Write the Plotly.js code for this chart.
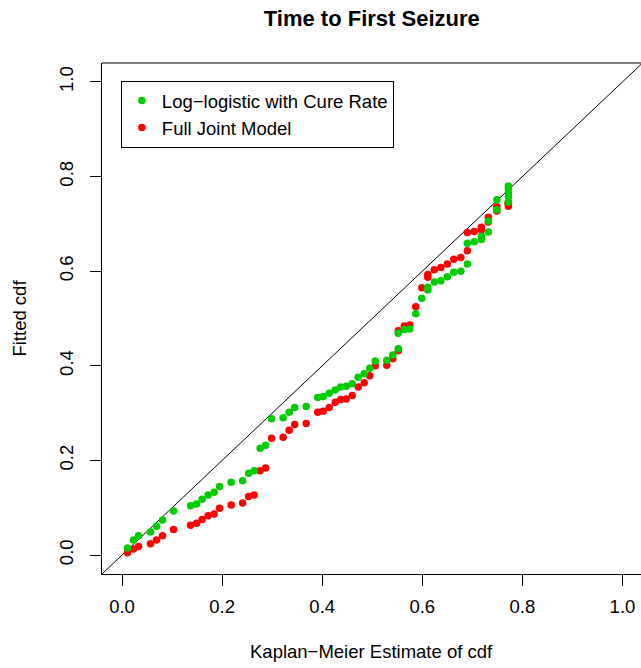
<!DOCTYPE html>
<html>
<head>
<meta charset="utf-8">
<script src="https://cdn.plot.ly/plotly-3.0.1.min.js"></script>
<style>html,body{margin:0;padding:0;overflow:hidden;background:#fff;}#chart{width:641px;height:668px;}</style>
</head>
<body>
<div id="chart"></div>
<script>
// Kaplan-Meier estimate of cdf (shared x for both fitted models)
const kmEstimate = [0.011,0.023,0.033,0.057,0.069,0.081,0.103,0.137,0.149,0.160,0.172,0.184,0.195,0.218,0.241,0.253,0.264,0.276,0.287,0.299,0.322,0.334,0.345,0.368,0.391,0.402,0.414,0.426,0.437,0.448,0.460,0.472,0.484,0.495,0.506,0.529,0.541,0.552,0.552,0.564,0.575,0.587,0.599,0.611,0.611,0.624,0.637,0.650,0.663,0.677,0.690,0.690,0.704,0.718,0.718,0.732,0.732,0.749,0.749,0.772,0.772,0.772,0.772,0.772];
// Fitted cdf: log-logistic with cure rate
const fitLogLogistic = [0.015,0.032,0.041,0.049,0.061,0.074,0.093,0.104,0.108,0.118,0.127,0.133,0.145,0.154,0.157,0.173,0.178,0.226,0.232,0.288,0.290,0.302,0.312,0.314,0.333,0.335,0.342,0.349,0.355,0.357,0.362,0.376,0.383,0.395,0.410,0.412,0.423,0.436,0.469,0.477,0.478,0.510,0.543,0.560,0.566,0.577,0.580,0.588,0.598,0.600,0.615,0.659,0.662,0.667,0.674,0.683,0.706,0.730,0.751,0.746,0.757,0.765,0.774,0.780];
// Fitted cdf: full joint model
const fitJoint = [0.005,0.013,0.018,0.024,0.032,0.041,0.054,0.063,0.067,0.075,0.083,0.087,0.099,0.106,0.110,0.124,0.127,0.178,0.184,0.247,0.249,0.264,0.276,0.278,0.302,0.304,0.312,0.323,0.329,0.330,0.337,0.355,0.364,0.379,0.400,0.401,0.415,0.432,0.474,0.484,0.486,0.525,0.565,0.587,0.593,0.603,0.608,0.615,0.625,0.629,0.643,0.682,0.684,0.687,0.693,0.704,0.714,0.727,0.736,0.737,0.742,0.743,0.744,0.745];
const seriesNames = ["Log\u2212logistic with Cure Rate", "Full Joint Model"];
const tickVals = [0, 0.2, 0.4, 0.6, 0.8, 1.0];
const tickText = ["0.0", "0.2", "0.4", "0.6", "0.8", "1.0"];
const refLine = [-1, 2];
const xTitle = "Kaplan\u2212Meier Estimate of cdf";
const yTitle = "Fitted cdf";

const FONT = "Liberation Sans, Arial, Helvetica, sans-serif";
const FS = 18.5;

const traces = [
  {x: refLine, y: refLine, mode: "lines", line: {color: "#000", width: 1}, showlegend: false, hoverinfo: "skip"},
  {x: kmEstimate, y: fitJoint, mode: "markers", name: seriesNames[1], legendrank: 2,
   marker: {color: "#FF0000", size: 7.5, line: {width: 0}}},
  {x: kmEstimate, y: fitLogLogistic, mode: "markers", name: seriesNames[0], legendrank: 1,
   marker: {color: "#00CD00", size: 7.5, line: {width: 0}}}
];

const layout = {
  width: 641, height: 668,
  margin: {l: 102, r: 0, t: 63, b: 94, pad: 0},
  paper_bgcolor: "#fff", plot_bgcolor: "#fff",
  font: {family: FONT, size: FS, color: "#000"},
  title: {text: "<b>Time to First Seizure</b>", font: {family: FONT, size: 22, color: "#000"}, x: 0.58, xanchor: "center", y: 0.973, yanchor: "middle"},
  xaxis: {range: [-0.04, 1.037], tickvals: tickVals, ticktext: tickText, ticks: "outside", ticklen: 11, tickwidth: 1, tickcolor: "#000",
          ticklabelstandoff: 5,
          showline: true, linecolor: "#000", linewidth: 1, showgrid: false, zeroline: false, mirror: false,
          tickfont: {family: FONT, size: FS}, automargin: false},
  yaxis: {range: [-0.04, 1.04], tickvals: tickVals, ticktext: tickText, ticks: "outside", ticklen: 11, tickwidth: 1, tickcolor: "#000",
          ticklabelstandoff: 10,
          showline: true, linecolor: "#000", linewidth: 1, showgrid: false, zeroline: false, tickangle: -90,
          tickfont: {family: FONT, size: FS}, title: {text: yTitle, font: {family: FONT, size: FS}, standoff: 24}, automargin: false},
  shapes: [{type: "line", xref: "paper", yref: "paper", x0: 0, x1: 1, y0: 1, y1: 1, line: {color: "#000", width: 1}}],
  annotations: [{text: xTitle, xref: "paper", yref: "paper", x: 0.5, y: -0.1526, xanchor: "center", yanchor: "middle",
                 showarrow: false, font: {family: FONT, size: FS, color: "#000"}}],
  legend: {x: 0.035, y: 0.965, xanchor: "left", yanchor: "top", bordercolor: "#000", borderwidth: 1, bgcolor: "#fff",
           font: {family: FONT, size: FS}, traceorder: "normal", itemwidth: 30},
  showlegend: true
};

Plotly.newPlot("chart", traces, layout, {displayModeBar: false, staticPlot: true});
</script>
</body>
</html>
